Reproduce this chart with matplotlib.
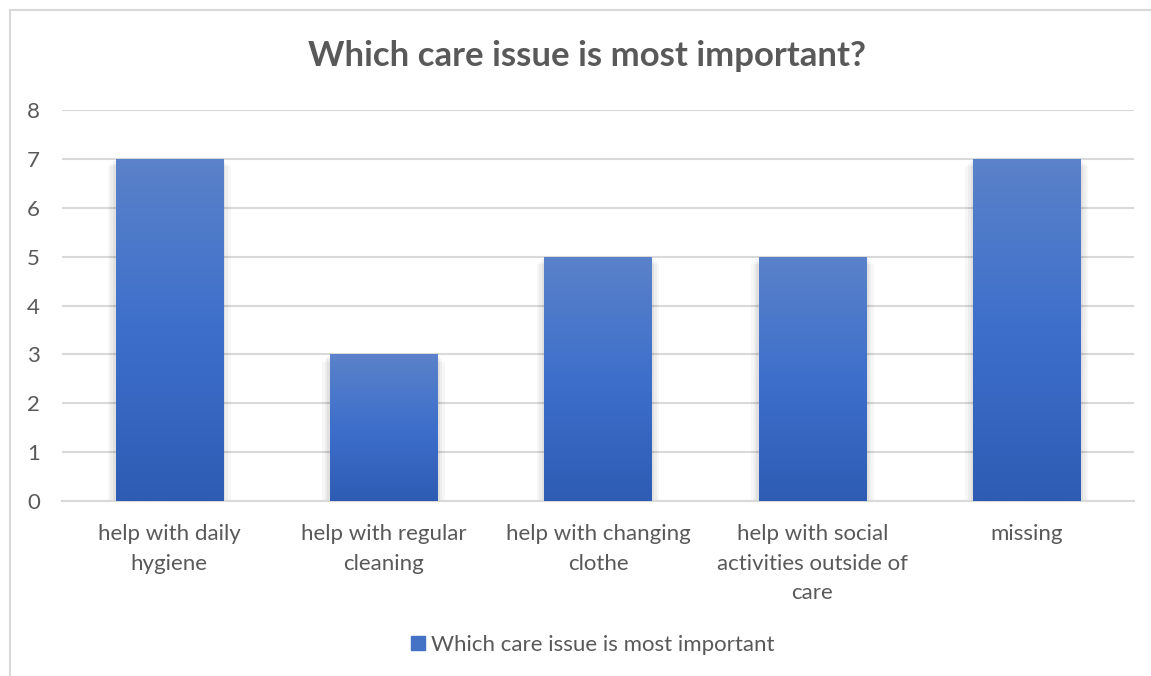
import matplotlib
matplotlib.use("Agg")
import matplotlib.pyplot as plt
from matplotlib.patches import Rectangle
from matplotlib.colors import LinearSegmentedColormap
import numpy as np

categories = [
    "help with daily\nhygiene",
    "help with regular\ncleaning",
    "help with changing\nclothe",
    "help with social\nactivities outside of\ncare",
    "missing",
]
values = [7, 3, 5, 5, 7]
series_name = "Which care issue is most important"
title = "Which care issue is most important?"

text_color = "#595959"
grid_color = "#D9D9D9"
bar_cmap = LinearSegmentedColormap.from_list("bar", ["#2E5CB4", "#3D6FCB", "#5B82C9"])

plt.rcParams["font.family"] = ["Lato", "DejaVu Sans"]

fig = plt.figure(figsize=(11.51, 6.76), dpi=100)
# chart frame, runs past the right and bottom edge of the picture
fig.patches.append(Rectangle((10 / 1151, -0.1), 1.2, 1 - 10 / 676 + 0.1,
                             transform=fig.transFigure, fill=False,
                             edgecolor=grid_color, linewidth=1.5))

ax = fig.add_axes([62 / 1151, 1 - 501 / 676, (1134 - 62) / 1151, (501 - 110) / 676])
x = np.arange(len(categories))
width = 0.5

# soft shadow behind the bars
for k, a in enumerate([0.05, 0.04, 0.03]):
    pad = 0.012 * (k + 1)
    ax.bar(x, values, width=width + 2 * pad, color="black", alpha=a, zorder=2,
           bottom=-0.05 * (k + 1))

bars = ax.bar(x, values, width=width, color="#4472C4", zorder=3)
grad = np.linspace(0, 1, 256).reshape(-1, 1)
for b in bars:
    x0, y0 = b.get_x(), b.get_y()
    im = ax.imshow(grad, cmap=bar_cmap, origin="lower", aspect="auto",
                   extent=[x0, x0 + b.get_width(), y0, y0 + b.get_height()], zorder=4)
    im.set_clip_path(b)

ax.set_xlim(-0.5, len(categories) - 0.5)
ax.set_ylim(0, 8)
ax.set_yticks(range(0, 9))
ax.yaxis.grid(True, color=grid_color, linewidth=1.5)
ax.set_axisbelow(True)
for s in ["top", "right", "left"]:
    ax.spines[s].set_visible(False)
ax.spines["bottom"].set_color(grid_color)
ax.spines["bottom"].set_linewidth(1.5)
ax.tick_params(length=0, labelsize=16, colors=text_color)
ax.tick_params(axis="y", pad=16)
ax.tick_params(axis="x", pad=16.5)
ax.set_xticks(x)
ax.set_xticklabels(categories, linespacing=1.6)

fig.text(587 / 1151, 1 - 56 / 676, title, ha="center", va="center",
         fontsize=25, fontweight="bold", color=text_color)

handle = Rectangle((0, 0), 1, 1, color="#4472C4")
fig.legend([handle], [series_name], loc="center", bbox_to_anchor=(593 / 1151, 1 - 645 / 676),
           frameon=False, fontsize=16, labelcolor=text_color, handlelength=0.6,
           handleheight=0.6, handletextpad=0.3)

fig.savefig("out.png", dpi=100)
